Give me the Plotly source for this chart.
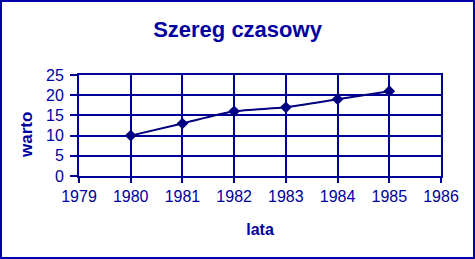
import plotly.graph_objects as go

years = [1980, 1981, 1982, 1983, 1984, 1985]
values = [10, 13, 16, 17, 19, 21]
x_ticks = [1979, 1980, 1981, 1982, 1983, 1984, 1985, 1986]
y_ticks = [0, 5, 10, 15, 20, 25]

W, H = 475, 259
L, R, T, B = 79, 34, 75, 83
NAVY = "#000099"
TXT = "#0000A0"

fig = go.Figure()
fig.add_trace(go.Scatter(
    x=years, y=values, mode="lines+markers",
    line=dict(color="#000080", width=2, shape="spline", smoothing=0.6),
    marker=dict(symbol="diamond", size=9, color="#000080"),
    showlegend=False,
))

pw = W - L - R
ph = H - T - B
fig.add_shape(type="rect", xref="paper", yref="paper",
              x0=-(L - 1) / pw, x1=1 + (R - 1) / pw,
              y0=-(B - 1) / ph, y1=1 + (T - 1) / ph,
              line=dict(color="#0000AA", width=2), layer="above")

fig.add_annotation(text="<b>warto</b>", xref="paper", yref="paper",
                   x=(26 - L) / pw, y=(176 - 135) / ph, xanchor="center", yanchor="middle",
                   textangle=-90, showarrow=False, font=dict(size=17, color=TXT))

fig.update_layout(
    width=W, height=H,
    margin=dict(l=L, r=R, t=T, b=B),
    paper_bgcolor="white", plot_bgcolor="white",
    font=dict(family="Liberation Sans, Arial, sans-serif", color=TXT, size=16),
    title=dict(text="<b>Szereg czasowy</b>", x=0.5, xref="container", xanchor="center",
               y=1 - 29 / H, yanchor="middle",
               font=dict(size=22, color=TXT)),
    xaxis=dict(range=[1979, 1986], tickvals=x_ticks, ticktext=[str(v) for v in x_ticks],
               showgrid=True, gridcolor=NAVY, gridwidth=2,
               showline=True, linecolor=NAVY, linewidth=2, mirror=True,
               ticks="outside", ticklen=5, tickwidth=2, tickcolor=NAVY,
               zeroline=False,
               title=dict(text="<b>lata</b>", font=dict(size=16, color=TXT), standoff=20),
               tickfont=dict(size=16, color=TXT)),
    yaxis=dict(range=[0, 25], tickvals=y_ticks,
               showgrid=True, gridcolor=NAVY, gridwidth=2,
               showline=True, linecolor=NAVY, linewidth=2, mirror=True,
               ticks="outside", ticklen=7, tickwidth=2, tickcolor=NAVY,
               zeroline=False, ticklabelstandoff=3,
               tickfont=dict(size=16, color=TXT)),
)

fig.write_html("out.html")
